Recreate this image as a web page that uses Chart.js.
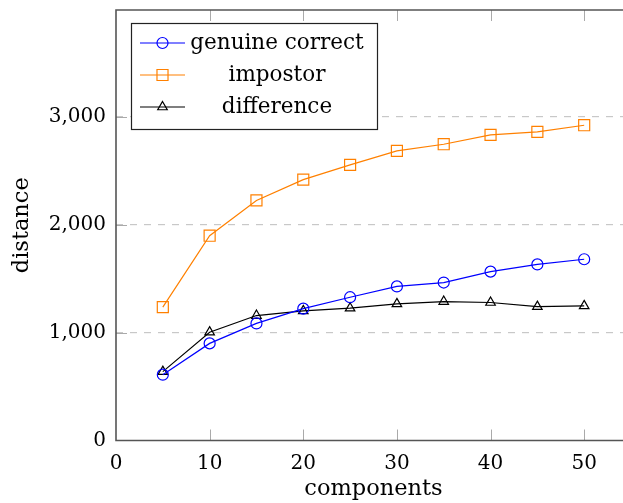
<!DOCTYPE html>
<html>
<head>
<meta charset="utf-8">
<script src="https://cdn.jsdelivr.net/npm/chart.js@4/dist/chart.umd.min.js"></script>
<style>
  html, body { margin: 0; padding: 0; background: #fff; overflow: hidden; }
  #wrap { width: 640px; height: 503px; }
</style>
</head>
<body>
<div id="wrap"><canvas id="chart" width="640" height="503"></canvas></div>
<script>
// values
const components = [5, 10, 15, 20, 25, 30, 35, 40, 45, 50];
const genuineCorrect = [610, 900, 1085, 1222, 1328, 1428, 1464, 1565, 1632, 1680];
const impostor = [1236, 1898, 2225, 2418, 2555, 2684, 2746, 2833, 2861, 2922];
const difference = [638, 1004, 1158, 1201, 1226, 1266, 1288, 1279, 1241, 1248];
const xTicks = [0, 10, 20, 30, 40, 50];
const yTicks = [0, 1000, 2000, 3000];

const FONT = "'DejaVu Serif', serif";
const toPoints = (ys) => ys.map((y, i) => ({ x: components[i], y }));

function series(label, data, color, style, radius) {
  return {
    label,
    data: toPoints(data),
    borderColor: color,
    backgroundColor: "rgba(0,0,0,0)",
    borderWidth: 1.2,
    pointStyle: style,
    pointRadius: radius,
    pointBorderWidth: 1.2,
    pointBorderColor: color,
    pointBackgroundColor: "rgba(0,0,0,0)",
    tension: 0,
    fill: false,
  };
}

// frame, inner tick marks and the boxed legend, pgfplots style
const framePlugin = {
  id: "frame",
  afterDatasetsDraw(chart) {
    const { ctx, chartArea: a, scales } = chart;
    ctx.save();
    ctx.strokeStyle = "#aaa";
    ctx.lineWidth = 1;
    const tl = 11;
    xTicks.slice(1).forEach((v) => {
      const px = Math.round(scales.x.getPixelForValue(v)) + 0.5;
      ctx.beginPath();
      ctx.moveTo(px, a.bottom); ctx.lineTo(px, a.bottom - tl);
      ctx.moveTo(px, a.top); ctx.lineTo(px, a.top + tl);
      ctx.stroke();
    });
    yTicks.slice(1).forEach((v) => {
      const py = Math.round(scales.y.getPixelForValue(v)) + 0.5;
      ctx.beginPath();
      ctx.moveTo(a.left, py); ctx.lineTo(a.left + tl, py);
      ctx.stroke();
    });
    ctx.strokeStyle = "#555";
    ctx.lineWidth = 1.6;
    ctx.beginPath();
    ctx.moveTo(a.right, a.top);
    ctx.lineTo(a.left, a.top);
    ctx.lineTo(a.left, a.bottom);
    ctx.lineTo(a.right, a.bottom);
    ctx.stroke();

    // legend
    const box = { x: 131.5, y: 23.5, w: 246, h: 106 };
    ctx.fillStyle = "#fff";
    ctx.fillRect(box.x, box.y, box.w, box.h);
    ctx.strokeStyle = "#222";
    ctx.lineWidth = 1.2;
    ctx.strokeRect(box.x, box.y, box.w, box.h);
    ctx.font = "21.5px " + FONT;
    ctx.textAlign = "center";
    ctx.textBaseline = "middle";
    chart.data.datasets.forEach((ds, i) => {
      const y = 43 + i * 32;
      ctx.strokeStyle = ds.borderColor;
      ctx.lineWidth = 1.2;
      ctx.beginPath();
      ctx.moveTo(140, y); ctx.lineTo(185, y);
      ctx.stroke();
      ctx.fillStyle = "rgba(0,0,0,0)";
      Chart.helpers.drawPoint(ctx, {
        pointStyle: ds.pointStyle, radius: ds.pointRadius, rotation: 0, borderWidth: 1.2,
      }, 162.5, y);
      ctx.fillStyle = "#000";
      ctx.fillText(ds.label, 277, y);
    });
    ctx.restore();
  },
};

new Chart(document.getElementById("chart"), {
  type: "scatter",
  data: {
    datasets: [
      series("genuine correct", genuineCorrect, "#0000ff", "circle", 5.5),
      series("impostor", impostor, "#ff8000", "rect", 7.8),
      series("difference", difference, "#000000", "triangle", 5.5),
    ],
  },
  options: {
    responsive: false,
    animation: false,
    showLine: true,
    layout: { padding: { top: 10, right: 7, left: 0, bottom: 0 } },
    plugins: { legend: { display: false }, tooltip: { enabled: false } },
    scales: {
      x: {
        type: "linear",
        min: 0,
        max: 55,
        afterBuildTicks: (s) => { s.ticks = xTicks.map((v) => ({ value: v })); },
        afterFit: (s) => { s.height = 62.5; s.paddingLeft = 0; s.paddingRight = 0; },
        grid: { display: false, drawTicks: false },
        border: { display: false },
        ticks: { color: "#000", padding: 11, font: { family: FONT, size: 20 }, maxRotation: 0 },
        title: { display: true, text: "components", color: "#000", padding: 0, font: { family: FONT, size: 22.5 } },
      },
      y: {
        min: 0,
        max: 3990,
        afterBuildTicks: (s) => { s.ticks = yTicks.map((v) => ({ value: v })); },
        afterFit: (s) => { s.width = 116; s.paddingTop = 0; s.paddingBottom = 0; },
        grid: {
          drawTicks: false,
          color: (c) => (c.tick && c.tick.value === 0 ? "rgba(0,0,0,0)" : "#c8c8c8"),
          lineWidth: 1.2,
        },
        border: { display: false, dash: [7, 7] },
        ticks: {
          color: "#000",
          padding: 10,
          font: { family: FONT, size: 20 },
          callback: (v) => v.toLocaleString("en-US"),
        },
        title: { display: true, text: "distance", color: "#000", padding: 9, font: { family: FONT, size: 22.5 } },
      },
    },
  },
  plugins: [framePlugin],
});
</script>
</body>
</html>
